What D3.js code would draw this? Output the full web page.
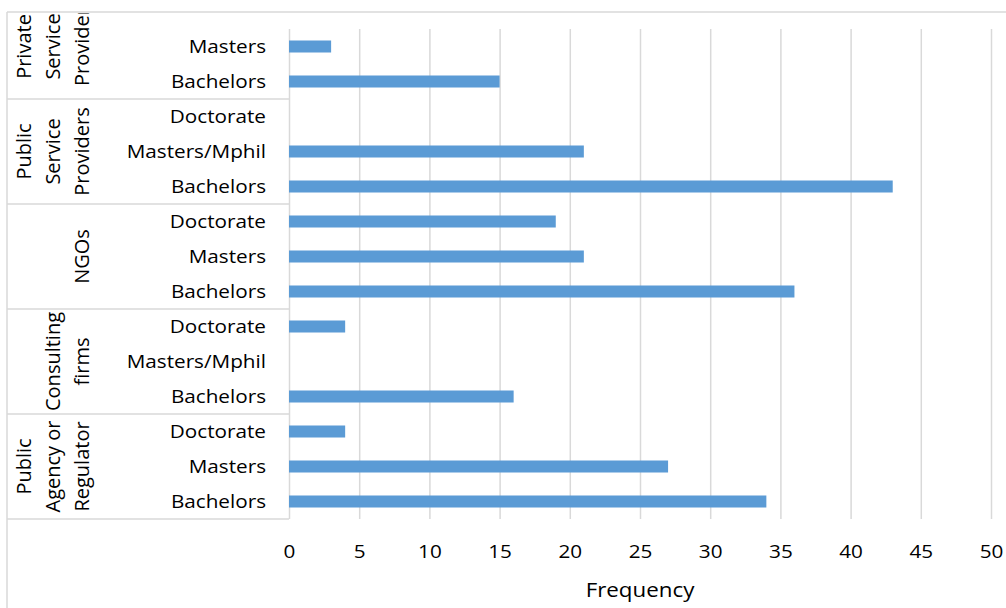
<!DOCTYPE html>
<html>
<head>
<meta charset="utf-8">
<script src="https://cdn.jsdelivr.net/npm/d3@7"></script>
<style>
  html, body { margin: 0; padding: 0; background: #fff; }
  svg { display: block; }
  text { font-family: "Open Sans", sans-serif; fill: #000; }
</style>
</head>
<body>
<svg id="chart" width="1006" height="608"></svg>
<script>
// ---------- DATA (top to bottom) ----------
const groupNames = ["Private Service Provider", "Public Service Providers", "NGOs", "Consulting firms", "Public Agency or Regulator"];
const groupLines = [["Private", "Service", "Provider"], ["Public", "Service", "Providers"], ["NGOs"], ["Consulting", "firms"], ["Public", "Agency or", "Regulator"]];
const categories = ["Masters", "Bachelors",
                    "Doctorate", "Masters/Mphil", "Bachelors",
                    "Doctorate", "Masters", "Bachelors",
                    "Doctorate", "Masters/Mphil", "Bachelors",
                    "Doctorate", "Masters", "Bachelors"];
const categoryGroup = [0, 0, 1, 1, 1, 2, 2, 2, 3, 3, 3, 4, 4, 4];
const frequency = [3, 15, 0, 21, 43, 19, 21, 36, 4, 0, 16, 4, 27, 34];
const xTicks = [0, 5, 10, 15, 20, 25, 30, 35, 40, 45, 50];
const xTitle = "Frequency";

// ---------- LAYOUT ----------
const W = 1006, H = 608;
const plot = { left: 289, right: 991, top: 29, bottom: 519 };
const borderX = 7, borderY = 12;
const gridColor = "#d9d9d9";
const barColor = "#5b9bd5";
const fs = 18.5, stretch = 1.12;

const svg = d3.select("#chart");

const x = d3.scaleLinear().domain([0, 50]).range([plot.left, plot.right]);
const y = d3.scaleBand().domain(d3.range(categories.length))
  .range([plot.top, plot.bottom]).paddingInner(0.657).paddingOuter(0.657 / 2);
const step = y.step();

// chart border
svg.append("line").attr("x1", borderX).attr("x2", W).attr("y1", borderY).attr("y2", borderY)
  .attr("stroke", gridColor).attr("stroke-width", 1.5);
svg.append("line").attr("x1", borderX).attr("x2", borderX).attr("y1", borderY).attr("y2", H)
  .attr("stroke", gridColor).attr("stroke-width", 1.5);

// gridlines via axis
const gridAxis = d3.axisBottom(x).tickValues(xTicks).tickSize(-(plot.bottom - plot.top)).tickFormat("");
const g = svg.append("g").attr("transform", `translate(0,${plot.bottom})`).call(gridAxis);
g.select(".domain").remove();
g.selectAll(".tick line").attr("stroke", gridColor).attr("stroke-width", 1.5);

// tick labels
const labAxis = d3.axisBottom(x).tickValues(xTicks).tickSize(0).tickPadding(0);
const gl = svg.append("g").attr("transform", `translate(0,558)`).call(labAxis);
gl.select(".domain").remove();
gl.selectAll(".tick text").attr("font-size", fs).attr("dy", 0)
  .attr("transform", `scale(${stretch},1)`)
  .style("font-family", "'Open Sans', sans-serif").attr("fill", "#000");

// axis title
svg.append("text").attr("transform", `translate(${(plot.left + plot.right) / 2},597) scale(1.09,1)`)
  .attr("text-anchor", "middle").attr("font-size", 20.5).text(xTitle);

// bars
svg.append("g").selectAll("rect").data(frequency).join("rect")
  .attr("x", x(0)).attr("y", (d, i) => y(i))
  .attr("width", d => x(d) - x(0)).attr("height", y.bandwidth())
  .attr("fill", barColor);

// category labels
svg.append("g").selectAll("text").data(categories).join("text")
  .attr("transform", (d, i) => `translate(266,${y(i) + y.bandwidth() / 2}) scale(${stretch},1)`)
  .attr("dy", "0.36em").attr("text-anchor", "end").attr("font-size", fs)
  .text(d => d);

// group separators
const groupBounds = groupNames.map((n, gi) => {
  const idx = categoryGroup.map((c, i) => c === gi ? i : -1).filter(i => i >= 0);
  const top = y(idx[0]) - (step - y.bandwidth()) / 2;
  const bottom = y(idx[idx.length - 1]) + y.bandwidth() + (step - y.bandwidth()) / 2;
  return { top, bottom };
});
svg.append("g").selectAll("line").data(groupBounds).join("line")
  .attr("x1", borderX).attr("x2", plot.left)
  .attr("y1", d => d.bottom).attr("y2", d => d.bottom)
  .attr("stroke", gridColor).attr("stroke-width", 1.5);

// group labels (rotated, wrapped)
svg.append("clipPath").attr("id", "clipTop").append("rect")
  .attr("x", 0).attr("y", borderY + 1).attr("width", W).attr("height", H);
const lastLineX = 82, lineGap = 29;
const gg = svg.append("g").attr("clip-path", "url(#clipTop)");
groupLines.forEach((lines, gi) => {
  const b = groupBounds[gi];
  let cy = (b.top + b.bottom) / 2;
  if (gi === 0) cy = 46.5; // Excel shifts the overflowing first label upward
  lines.forEach((ln, li) => {
    const cx = lastLineX - (lines.length - 1 - li) * lineGap;
    gg.append("text")
      .attr("transform", `translate(${cx},${cy}) rotate(-90)`)
      .attr("text-anchor", "middle").attr("dy", "0.36em")
      .attr("font-size", 20).text(ln);
  });
});
</script>
</body>
</html>
